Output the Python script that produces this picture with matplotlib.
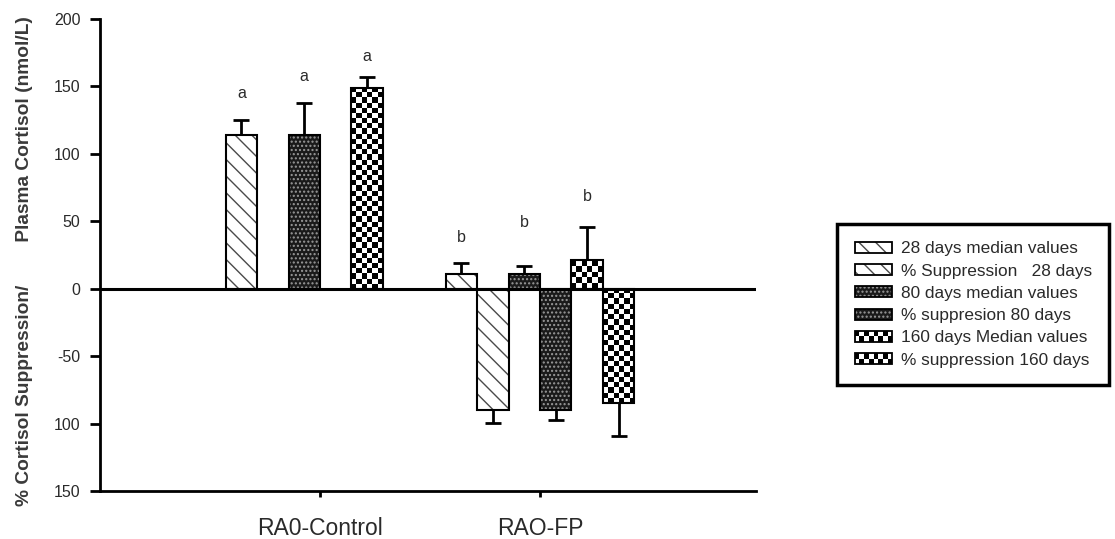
#!/usr/bin/env python3
"""Plasma cortisol and % cortisol suppression in RAO horses, grouped bar chart."""

import matplotlib

matplotlib.use("Agg")
import matplotlib.pyplot as plt
import numpy as np
from matplotlib.legend_handler import HandlerBase
from matplotlib.patches import Rectangle

GROUPS = ["RA0-Control", "RAO-FP"]
SERIES = [
    "28 days median values",
    "% Suppression   28 days",
    "80 days median values",
    "% suppresion 80 days",
    "160 days Median values",
    "% suppression 160 days",
]
# one value per group; the control group has no suppression bars
MEDIAN_28 = [114, 11]
SUPPRESSION_28 = [np.nan, -90]
MEDIAN_80 = [114, 11]
SUPPRESSION_80 = [np.nan, -90]
MEDIAN_160 = [149, 21]
SUPPRESSION_160 = [np.nan, -85]
ERR_28 = [11, 8]
ERR_SUPP_28 = [np.nan, 9.5]
ERR_80 = [24, 6]
ERR_SUPP_80 = [np.nan, 7]
ERR_160 = [8, 25]
ERR_SUPP_160 = [np.nan, 24]
# significance letters sit over the median bars (series 0, 2, 4)
LETTERS = ["a", "b"]
LETTER_SERIES = [0, 2, 4]
LETTER_Y = [[145, 157, 172], [38, 49, 68]]
Y_TICKS = [200, 150, 100, 50, 0, -50, -100, -150]
Y_TICK_LABELS = ["200", "150", "100", "50", "0", "-50", "100", "150"]
Y_LABEL = "% Cortisol Suppression/        Plasma Cortisol (nmol/L)"

WIDTH = 0.143
TEXT = "#2a2a2a"
STYLES = {
    "diag": dict(face="white", hatch="\\\\", hatch_color="#4a4a4a"),
    "dots": dict(face="#1a1a1a", hatch="....", hatch_color="#9a9a9a"),
    "check": dict(face="white", hatch=None, hatch_color="black"),
}
SERIES_STYLE = ["diag", "diag", "dots", "dots", "check", "check"]


def checker_fill(ax, bars, square_px=5.2):
    for bar in bars:
        height = bar.get_height()
        if not np.isfinite(height) or height == 0:
            continue
        x0, y0 = bar.get_x(), bar.get_y()
        x1, y1 = x0 + bar.get_width(), y0 + height
        (px0, py0), (px1, py1) = ax.transData.transform([(x0, y0), (x1, y1)])
        cols = max(1, round(abs(px1 - px0) / square_px))
        rows = max(1, round(abs(py1 - py0) / square_px))
        grid = np.indices((rows, cols)).sum(axis=0) % 2
        ax.imshow(
            grid,
            cmap="gray",
            vmin=0,
            vmax=1,
            extent=(x0, x1, min(y0, y1), max(y0, y1)),
            aspect="auto",
            interpolation="nearest",
            zorder=2.2,
            clip_path=bar,
        )


class StyleHandler(HandlerBase):
    def __init__(self, style):
        super().__init__()
        self.style = style

    def create_artists(self, legend, orig_handle, xdescent, ydescent, width, height, fontsize, trans):
        x, y = -xdescent, -ydescent
        artists = []
        if self.style["hatch"] is None:
            artists.append(Rectangle((x, y), width, height, facecolor="white", linewidth=0, transform=trans))
            cols, rows = 8, 2
            for r in range(rows):
                for c in range(cols):
                    if (r + c) % 2:
                        artists.append(
                            Rectangle(
                                (x + c * width / cols, y + r * height / rows),
                                width / cols,
                                height / rows,
                                facecolor="black",
                                linewidth=0,
                                transform=trans,
                            )
                        )
        else:
            artists.append(
                Rectangle(
                    (x, y),
                    width,
                    height,
                    facecolor=self.style["face"],
                    edgecolor=self.style["hatch_color"],
                    hatch=self.style["hatch"],
                    linewidth=0,
                    transform=trans,
                )
            )
        artists.append(Rectangle((x, y), width, height, fill=False, edgecolor="black", linewidth=1.3, transform=trans))
        return artists


def main():
    plt.rcParams["font.family"] = ["Liberation Sans", "DejaVu Sans"]
    plt.rcParams["hatch.linewidth"] = 1.0

    values = [MEDIAN_28, SUPPRESSION_28, MEDIAN_80, SUPPRESSION_80, MEDIAN_160, SUPPRESSION_160]
    errors = [ERR_28, ERR_SUPP_28, ERR_80, ERR_SUPP_80, ERR_160, ERR_SUPP_160]

    fig = plt.figure(figsize=(11.15, 5.39), dpi=100)
    ax = fig.add_axes([0.0897, 0.089, 0.588, 0.876])
    ax.set_xlim(-1.0, 1.98)
    ax.set_ylim(-150, 200)
    ax.set_autoscale_on(False)

    group_x = np.arange(len(GROUPS))
    for index, (vals, errs) in enumerate(zip(values, errors)):
        vals = np.asarray(vals, dtype=float)
        errs = np.asarray(errs, dtype=float)
        style = STYLES[SERIES_STYLE[index]]
        x = group_x + (index - 2.5) * WIDTH
        bars = ax.bar(
            x,
            vals,
            WIDTH,
            color=style["face"],
            edgecolor=style["hatch_color"],
            hatch=style["hatch"],
            linewidth=0,
            zorder=2,
        )
        if style["hatch"] is None:
            checker_fill(ax, bars)
        ax.bar(x, vals, WIDTH, fill=False, edgecolor="black", linewidth=1.5, zorder=2.5)

        lower = np.where(vals < 0, errs, 0)
        upper = np.where(vals > 0, errs, 0)
        _, caps, _ = ax.errorbar(
            x,
            vals,
            yerr=[lower, upper],
            fmt="none",
            ecolor="black",
            elinewidth=2,
            capsize=5.8,
            capthick=2,
            zorder=1.5,
        )
        # keep only the cap at the far end of each one-sided error bar
        for cap in caps:
            cap_y = np.ma.filled(np.ma.asarray(cap.get_ydata(), dtype=float), np.nan)
            if np.allclose(cap_y, vals, equal_nan=True):
                cap.set_visible(False)

    for group, letter in enumerate(LETTERS):
        for series, y in zip(LETTER_SERIES, LETTER_Y[group]):
            x = group_x[group] + (series - 2.5) * WIDTH
            ax.text(x, y, letter, ha="center", va="center", fontsize=11.5, color=TEXT)

    ax.axhline(0, color="black", linewidth=2.2, zorder=4)

    for side in ("top", "right"):
        ax.spines[side].set_visible(False)
    for side in ("left", "bottom"):
        ax.spines[side].set_linewidth(2)
    ax.set_yticks(Y_TICKS, labels=Y_TICK_LABELS)
    ax.set_xticks(group_x, labels=GROUPS)
    ax.tick_params(axis="y", direction="out", length=7, width=2, pad=7, labelsize=11.5, labelcolor=TEXT)
    ax.tick_params(axis="x", direction="out", length=4, width=2, pad=14.5, labelsize=16.5, labelcolor=TEXT)

    fig.text(0.022, 0.516, Y_LABEL, rotation=90, ha="center", va="center",
             fontsize=13.8, fontweight="bold", color="#3a3a3a")

    proxies = [Rectangle((0, 0), 1, 1) for _ in SERIES]
    handler_map = {p: StyleHandler(STYLES[s]) for p, s in zip(proxies, SERIES_STYLE)}
    legend = fig.legend(
        proxies,
        SERIES,
        handler_map=handler_map,
        loc="upper left",
        bbox_to_anchor=(0.751, 0.584),
        borderaxespad=0,
        fontsize=12.4,
        handlelength=2.2,
        handleheight=0.6,
        handletextpad=0.5,
        labelspacing=0.42,
        borderpad=1.0,
        fancybox=False,
        framealpha=1,
        edgecolor="black",
    )
    legend.get_frame().set_linewidth(2.5)
    for text in legend.get_texts():
        text.set_color(TEXT)

    fig.savefig("out.png", dpi=100)
    plt.close(fig)
    return 0


if __name__ == "__main__":
    raise SystemExit(main())
